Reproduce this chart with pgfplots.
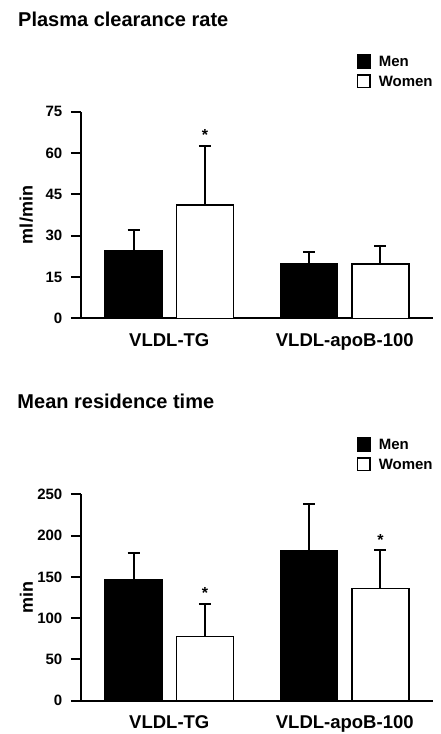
\documentclass[border=0pt]{standalone}
\usepackage{fontspec}
\setmainfont{Liberation Sans}
\usepackage{pgfplots}
\pgfplotsset{compat=1.18}
\begin{document}
\begin{tikzpicture}
\useasboundingbox (0pt,0pt) rectangle (440pt,734pt);
\pgfplotsset{
  myax/.style={
    scale only axis,
    axis x line*=bottom, axis y line*=left,
    axis line style={line width=2pt, black},
    ymin=0,
    xtick={0,1}, xticklabels={VLDL-TG,VLDL-apoB-100},
    x tick label style={font=\fontsize{18.5}{18.5}\selectfont\bfseries, anchor=base, inner sep=0pt, yshift=-18.5pt},
    major x tick style={draw=none},
    y tick label style={font=\fontsize{15}{15}\selectfont\bfseries, anchor=east, inner sep=0pt, xshift=-8.5pt},
    /pgf/number format/assume math mode=true,
    tick align=outside, major tick length=9.7pt,
    major y tick style={line width=2pt, black},
    every axis y label/.style={at={(axis description cs:-0.135,0.5)}, rotate=90, anchor=south, inner sep=0pt, font=\fontsize{18}{18}\selectfont\bfseries},
    every axis title/.style={anchor=base west, inner sep=0pt, font=\fontsize{20}{20}\selectfont\bfseries},
    legend style={draw=none, fill=none, inner sep=0pt, font=\fontsize{15}{15}\selectfont\bfseries, row sep=4pt, anchor=north west},
    legend cell align=left,
    legend image code/.code={\draw[#1, line width=1.5pt] (0.75pt,-5.6pt) rectangle (13.25pt,7.2pt); \path[draw=none, fill=none] (20pt,0pt) circle (0.01pt);},
    men/.style={ybar, bar width=57pt, bar shift=0pt, fill=black, draw=black, line width=1.5pt,
      error bars/.cd, y dir=plus, y explicit,
      error bar style={line width=2pt, black},
      error mark options={rotate=90, mark size=6pt, line width=2pt, black}},
    women/.style={ybar, bar width=57pt, bar shift=0pt, fill=white, draw=black, line width=1.5pt,
      error bars/.cd, y dir=plus, y explicit,
      error bar style={line width=2pt, black},
      error mark options={rotate=90, mark size=6pt, line width=2pt, black}},
    star/.style={only marks, mark=text, text mark={*}, text mark as node=true,
      text mark style={font=\fontsize{16}{16}\selectfont\bfseries, anchor=center, inner sep=0pt}, forget plot},
  }
}
% top panel
\begin{axis}[myax, at={(80.7pt,415.7pt)}, anchor=south west,
  width=352.3pt, height=206.6pt,
  xmin=-0.505, xmax=1.503, ymax=75, ytick={0,15,30,45,60,75},
  ylabel={ml/min},
  title={Plasma clearance rate},
  title style={at={(axis description cs:-0.178,1.4148)}},
  legend style={at={(axis description cs:0.783,1.2793)}},
]
\addplot[men] coordinates {(-0.203,24.5) +- (0,7.4) (0.797,19.7) +- (0,4.4)};
\addlegendentry{Men}
\addplot[women] coordinates {(0.203,41.2) +- (0,21.3) (1.203,19.7) +- (0,6.6)};
\addlegendentry{Women}
\addplot[star] coordinates {(0.203,66.5)};
\end{axis}
% bottom panel
\begin{axis}[myax, at={(80.7pt,33.3pt)}, anchor=south west,
  width=352.3pt, height=206.4pt,
  xmin=-0.505, xmax=1.503, ymax=250, ytick={0,50,100,150,200,250},
  ylabel={min},
  title={Mean residence time},
  title style={at={(axis description cs:-0.180,1.4167)}},
  legend style={at={(axis description cs:0.783,1.2776)}},
]
\addplot[men] coordinates {(-0.203,146.2) +- (0,33.1) (0.797,181.3) +- (0,57.3)};
\addlegendentry{Men}
\addplot[women] coordinates {(0.203,77.5) +- (0,39.3) (1.203,135.7) +- (0,46.8)};
\addlegendentry{Women}
\addplot[star] coordinates {(0.203,130) (1.203,194.6)};
\end{axis}
\end{tikzpicture}
\end{document}
